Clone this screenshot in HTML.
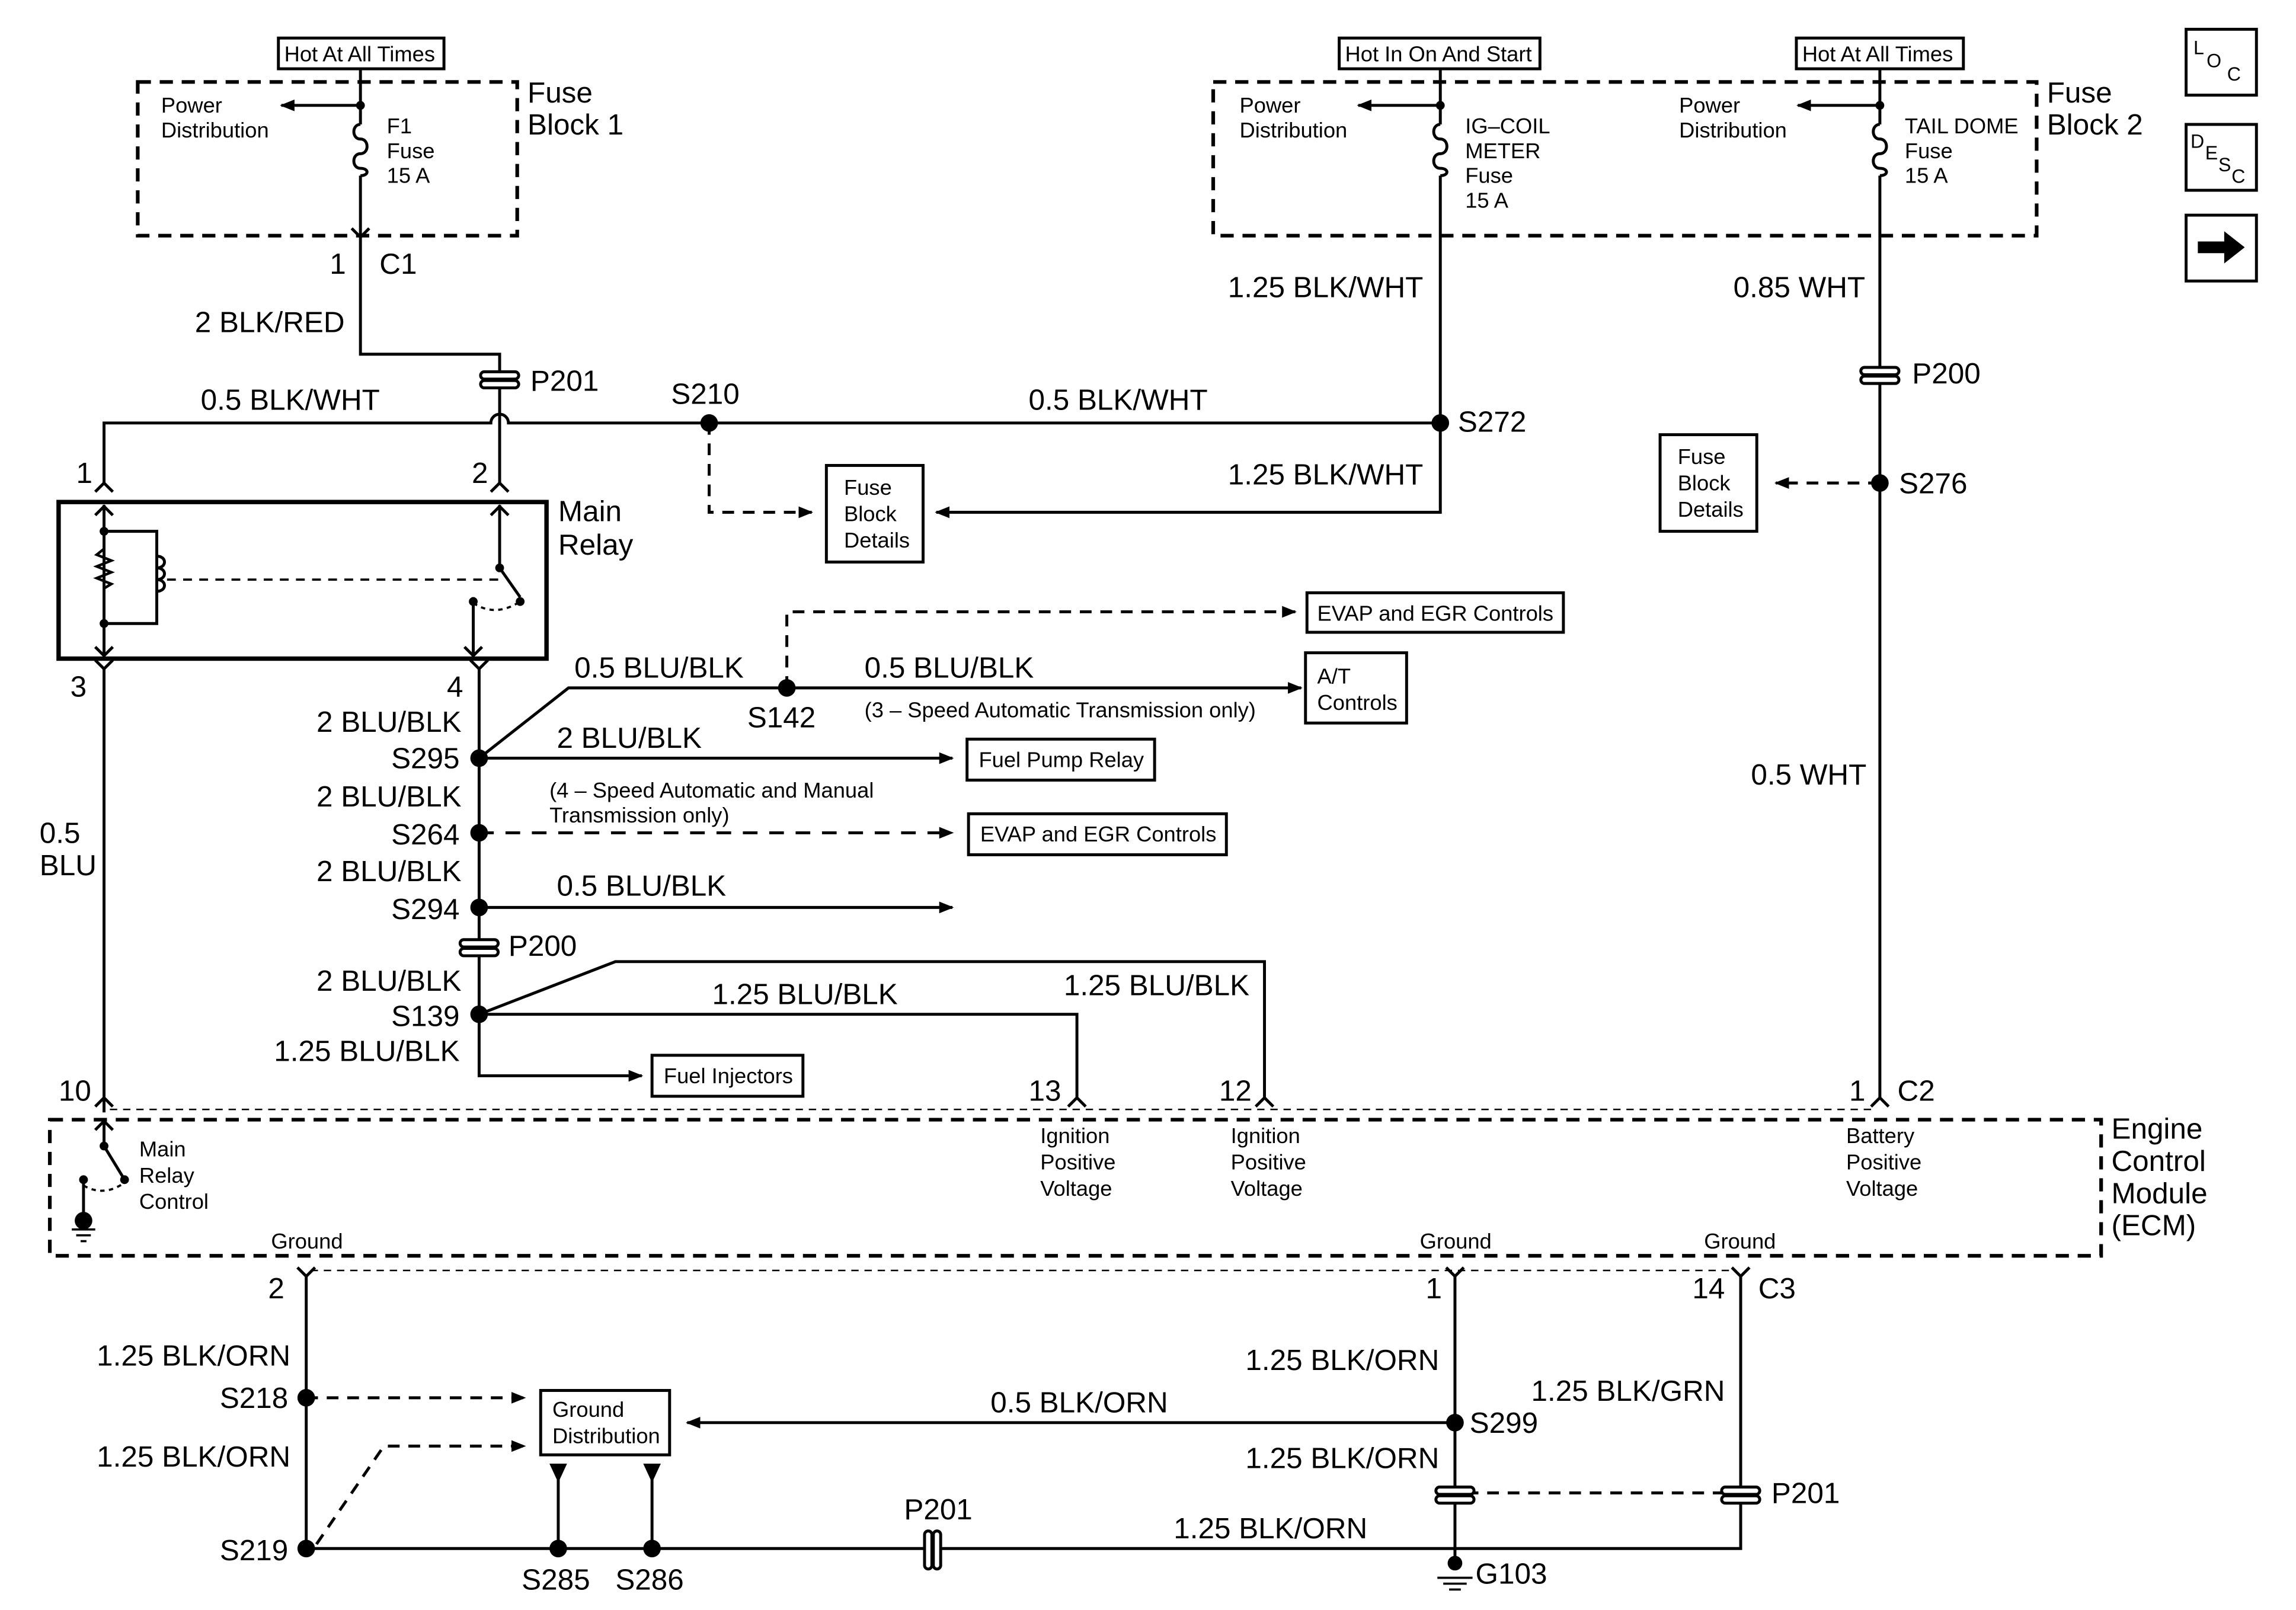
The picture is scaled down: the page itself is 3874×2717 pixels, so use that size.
<!DOCTYPE html>
<html><head><meta charset="utf-8"><style>html,body{margin:0;padding:0;background:#fff}svg{display:block}</style></head>
<body>
<svg width="3874" height="2717" viewBox="0 0 1567 1100" preserveAspectRatio="none" xmlns="http://www.w3.org/2000/svg" font-family="Liberation Sans, sans-serif">
<defs>
<marker id="a" markerWidth="10" markerHeight="8" refX="9" refY="4" orient="auto" markerUnits="userSpaceOnUse"><path d="M0,0 L10,4 L0,8 z" fill="#000"/></marker>
</defs>
<rect width="1567" height="1100" fill="#fff"/>
<g stroke="#000" stroke-width="2" fill="none">
<rect x="190" y="26" width="113" height="21"/>
<rect x="914" y="26" width="137" height="21"/>
<rect x="1226" y="26" width="114" height="21"/>
<g stroke-dasharray="9,6" stroke-width="2.5">
<rect x="94" y="56" width="259" height="105"/>
<rect x="828" y="56" width="562" height="105"/>
<rect x="34" y="765" width="1400" height="93"/>
</g>
<path d="M246,47 V85 M246,120 V160"/>
<path d="M246,85 c-6,0 -6,10 0,10 c6,0 6,10 0,10 M246,105 c-6,0 -6,10 0,10 c6,0 6,5 0,5"/>
<path d="M246,72 H192" marker-end="url(#a)"/>
<path d="M240,156 L246,162 L252,156"/>
<path d="M246,162 V242 H341 V330"/>
<path d="M65,336 L71,330 L77,336"/>
<path d="M335,336 L341,330 L347,336"/>
<path d="M71,330 V289 H335 a6,6 0 0 1 12,0 H983"/>
<path d="M983,47 V85 M983,120 V350 H639" marker-end="url(#a)"/>
<path d="M983,85 c-6,0 -6,10 0,10 c6,0 6,10 0,10 M983,105 c-6,0 -6,10 0,10 c6,0 6,5 0,5"/>
<path d="M983,72 H927" marker-end="url(#a)"/>
<path d="M1283,47 V85 M1283,120 V750"/>
<path d="M1283,85 c-6,0 -6,10 0,10 c6,0 6,10 0,10 M1283,105 c-6,0 -6,10 0,10 c6,0 6,5 0,5"/>
<path d="M1283,72 H1227" marker-end="url(#a)"/>
<path d="M1277,756 L1283,750 L1289,756"/>
<path d="M1283,330 H1212" stroke-dasharray="8,6" marker-end="url(#a)"/>
<rect x="1133" y="297" width="66" height="66"/>
<path d="M484,289 V350 H554" stroke-dasharray="8,6" marker-end="url(#a)"/>
<rect x="564" y="318" width="66" height="66"/>
<rect x="40" y="343" width="333" height="107" stroke-width="3"/>
<path d="M71,345 V449 M65,352 L71,346 L77,352 M65,442 L71,448 L77,442"/>
<path d="M71,363 H107 V426 H71"/>
<path d="M71,375 l-5,4 l10,4 l-10,4 l10,4 l-10,4 l10,4 l-5,3" stroke-width="1.8"/>
<path d="M107,380 c7,0 7,8 0,8 c7,0 7,8 0,8 c7,0 7,8 0,8"/>
<path d="M114,396 H340" stroke-dasharray="6,5" stroke-width="1.5"/>
<path d="M341,345 V388 L355,408 M335,352 L341,346 L347,352"/>
<path d="M323,408 V449 M317,442 L323,448 L329,442"/>
<path d="M323,412 q15,10 32,-1" stroke-dasharray="3,3" stroke-width="1.5"/>
<path d="M65,451 L71,457 L77,451 M321,451 L327,457 L333,451"/>
<path d="M71,457 V760 M65,756 L71,750 L77,756"/>
<path d="M327,457 V735 H438" marker-end="url(#a)"/>
<path d="M327,518 L388,470 H888" marker-end="url(#a)"/>
<path d="M537,470 V418 H884" stroke-dasharray="8,6" marker-end="url(#a)"/>
<rect x="892" y="405" width="175" height="27"/>
<rect x="891" y="446" width="69" height="48"/>
<path d="M327,518 H650" marker-end="url(#a)"/>
<rect x="660" y="505" width="128" height="28"/>
<path d="M327,569 H650" stroke-dasharray="10,8" marker-end="url(#a)"/>
<rect x="661" y="556" width="176" height="28"/>
<path d="M327,620 H650" marker-end="url(#a)"/>
<path d="M327,693 L420,657 H863 V750 M857,756 L863,750 L869,756"/>
<path d="M327,693 H735 V750 M729,756 L735,750 L741,756"/>
<rect x="445" y="721" width="103" height="28"/>
<path d="M75,758 H1280" stroke-dasharray="5,4" stroke-width="1"/>
<path d="M71,765 V783 L85,806 M65,772 L71,766 L77,772"/>
<path d="M57,806 V830"/>
<path d="M57,810 q14,8 28,-2" stroke-dasharray="3,3" stroke-width="1.5"/>
<path d="M49,840 H65 M52,844 H62 M55,848 H59" stroke-width="1.5"/>
<path d="M212,868 H1185" stroke-dasharray="5,4" stroke-width="1"/>
<path d="M203,866 L209,872 L215,866 M987,866 L993,872 L999,866 M1182,866 L1188,872 L1194,866"/>
<path d="M209,872 V1058 H993 M993,872 V1070"/>
<path d="M1188,872 V1058 H993"/>
<path d="M209,955 H358" stroke-dasharray="8,6" marker-end="url(#a)"/>
<path d="M216,1055 L262,988 H358" stroke-dasharray="8,6" marker-end="url(#a)"/>
<rect x="369" y="950" width="88" height="44"/>
<path d="M993,972 H469" marker-end="url(#a)"/>
<path d="M381,1000 V1058 M445,1000 V1058"/>
<path d="M1001,1020 H1180" stroke-dasharray="8,6"/>
<path d="M981,1078 H1005 M985,1082 H1001 M989,1086 H997" stroke-width="1.5"/>
<rect x="1492" y="20" width="48" height="45"/>
<rect x="1492" y="85" width="48" height="45"/>
<rect x="1492" y="147" width="48" height="45"/>
</g>
<g fill="#fff" stroke="#000" stroke-width="2">
<rect x="328" y="254" width="26" height="5" rx="2.5"/><rect x="328" y="260" width="26" height="5" rx="2.5"/>
<rect x="1270" y="251" width="26" height="5" rx="2.5"/><rect x="1270" y="257" width="26" height="5" rx="2.5"/>
<rect x="314" y="642" width="26" height="5" rx="2.5"/><rect x="314" y="648" width="26" height="5" rx="2.5"/>
<rect x="980" y="1016" width="26" height="5" rx="2.5"/><rect x="980" y="1022" width="26" height="5" rx="2.5"/>
<rect x="1175" y="1016" width="26" height="5" rx="2.5"/><rect x="1175" y="1022" width="26" height="5" rx="2.5"/>
<rect x="631" y="1046" width="5" height="26" rx="2.5"/><rect x="637" y="1046" width="5" height="26" rx="2.5"/>
</g>
<g fill="#000">
<circle cx="246" cy="72" r="3"/><circle cx="983" cy="72" r="3"/><circle cx="1283" cy="72" r="3"/>
<circle cx="484" cy="289" r="6"/><circle cx="983" cy="289" r="6"/><circle cx="1283" cy="330" r="6"/>
<circle cx="71" cy="363" r="3"/><circle cx="71" cy="426" r="3"/><circle cx="341" cy="388" r="3"/><circle cx="355" cy="411" r="3"/><circle cx="323" cy="411" r="3"/>
<circle cx="537" cy="470" r="6"/><circle cx="327" cy="518" r="6"/><circle cx="327" cy="569" r="6"/><circle cx="327" cy="620" r="6"/><circle cx="327" cy="693" r="6"/>
<circle cx="71" cy="783" r="3"/><circle cx="85" cy="806" r="3"/><circle cx="57" cy="806" r="3"/><circle cx="57" cy="834" r="6"/>
<circle cx="209" cy="955" r="6"/><circle cx="209" cy="1058" r="6"/><circle cx="993" cy="972" r="6"/>
<circle cx="381" cy="1058" r="6"/><circle cx="445" cy="1058" r="6"/><circle cx="993" cy="1068" r="5"/>
<path d="M375,1000 H387 L381,1013 z M439,1000 H451 L445,1013 z"/>
<path d="M1500,165 H1518 V158 L1532,169 L1518,180 V173 H1500 z"/>
</g>
<g font-size="14.7" fill="#000">
<text x="194" y="42">Hot At All Times</text>
<text x="918" y="42">Hot In On And Start</text>
<text x="1230" y="42">Hot At All Times</text>
<text x="110" y="77">Power</text><text x="110" y="94">Distribution</text>
<text x="264" y="91">F1</text><text x="264" y="108">Fuse</text><text x="264" y="125">15 A</text>
<text x="846" y="77">Power</text><text x="846" y="94">Distribution</text>
<text x="1000" y="91">IG–COIL</text><text x="1000" y="108">METER</text><text x="1000" y="125">Fuse</text><text x="1000" y="142">15 A</text>
<text x="1146" y="77">Power</text><text x="1146" y="94">Distribution</text>
<text x="1300" y="91">TAIL DOME</text><text x="1300" y="108">Fuse</text><text x="1300" y="125">15 A</text>
<text x="576" y="338">Fuse</text><text x="576" y="356">Block</text><text x="576" y="374">Details</text>
<text x="1145" y="317">Fuse</text><text x="1145" y="335">Block</text><text x="1145" y="353">Details</text>
<text x="899" y="424">EVAP and EGR Controls</text>
<text x="899" y="467">A/T</text><text x="899" y="485">Controls</text>
<text x="590" y="490">(3 – Speed Automatic Transmission only)</text>
<text x="668" y="524">Fuel Pump Relay</text>
<text x="375" y="545">(4 – Speed Automatic and Manual</text><text x="375" y="562">Transmission only)</text>
<text x="669" y="575">EVAP and EGR Controls</text>
<text x="453" y="740">Fuel Injectors</text>
<text x="95" y="790">Main</text><text x="95" y="808">Relay</text><text x="95" y="826">Control</text>
<text x="710" y="781">Ignition</text><text x="710" y="799">Positive</text><text x="710" y="817">Voltage</text>
<text x="840" y="781">Ignition</text><text x="840" y="799">Positive</text><text x="840" y="817">Voltage</text>
<text x="1260" y="781">Battery</text><text x="1260" y="799">Positive</text><text x="1260" y="817">Voltage</text>
<text x="185" y="853">Ground</text><text x="969" y="853">Ground</text><text x="1163" y="853">Ground</text>
<text x="377" y="968">Ground</text><text x="377" y="986">Distribution</text>
<text x="1497" y="37" font-size="13">L</text><text x="1506" y="46" font-size="13">O</text><text x="1520" y="55" font-size="13">C</text>
<text x="1495" y="101" font-size="13">D</text><text x="1505" y="109" font-size="13">E</text><text x="1514" y="117" font-size="13">S</text><text x="1523" y="125" font-size="13">C</text>
</g>
<g font-size="20" fill="#000">
<text x="360" y="70">Fuse</text><text x="360" y="92">Block 1</text>
<text x="1397" y="70">Fuse</text><text x="1397" y="92">Block 2</text>
<text x="225" y="187">1</text><text x="259" y="187">C1</text>
<text x="133" y="227">2 BLK/RED</text>
<text x="362" y="267">P201</text>
<text x="137" y="280">0.5 BLK/WHT</text>
<text x="458" y="276">S210</text>
<text x="702" y="280">0.5 BLK/WHT</text>
<text x="995" y="295">S272</text>
<text x="838" y="203">1.25 BLK/WHT</text>
<text x="838" y="331">1.25 BLK/WHT</text>
<text x="1183" y="203">0.85 WHT</text>
<text x="1305" y="262">P200</text>
<text x="1296" y="337">S276</text>
<text x="1195" y="536">0.5 WHT</text>
<text x="52" y="330">1</text><text x="322" y="330">2</text>
<text x="381" y="356">Main</text><text x="381" y="379">Relay</text>
<text x="48" y="476">3</text><text x="305" y="476">4</text>
<text x="27" y="576">0.5</text><text x="27" y="598">BLU</text>
<text x="392" y="463">0.5 BLU/BLK</text><text x="590" y="463">0.5 BLU/BLK</text>
<text x="510" y="497">S142</text>
<text x="216" y="500">2 BLU/BLK</text><text x="267" y="525">S295</text>
<text x="380" y="511">2 BLU/BLK</text>
<text x="216" y="551">2 BLU/BLK</text><text x="267" y="577">S264</text>
<text x="216" y="602">2 BLU/BLK</text><text x="267" y="628">S294</text>
<text x="380" y="612">0.5 BLU/BLK</text>
<text x="347" y="653">P200</text>
<text x="216" y="677">2 BLU/BLK</text><text x="267" y="701">S139</text>
<text x="187" y="725">1.25 BLU/BLK</text>
<text x="486" y="686">1.25 BLU/BLK</text><text x="726" y="680">1.25 BLU/BLK</text>
<text x="40" y="752">10</text><text x="702" y="752">13</text><text x="832" y="752">12</text>
<text x="1262" y="752">1</text><text x="1295" y="752">C2</text>
<text x="1441" y="778">Engine</text><text x="1441" y="800">Control</text><text x="1441" y="822">Module</text><text x="1441" y="844">(ECM)</text>
<text x="183" y="887">2</text><text x="973" y="887">1</text><text x="1155" y="887">14</text><text x="1200" y="887">C3</text>
<text x="66" y="933">1.25 BLK/ORN</text><text x="150" y="962">S218</text>
<text x="66" y="1002">1.25 BLK/ORN</text><text x="150" y="1066">S219</text>
<text x="850" y="936">1.25 BLK/ORN</text>
<text x="1045" y="957">1.25 BLK/GRN</text>
<text x="676" y="965">0.5 BLK/ORN</text>
<text x="1003" y="979">S299</text>
<text x="850" y="1003">1.25 BLK/ORN</text>
<text x="1209" y="1027">P201</text>
<text x="617" y="1038">P201</text>
<text x="801" y="1051">1.25 BLK/ORN</text>
<text x="356" y="1086">S285</text><text x="420" y="1086">S286</text>
<text x="1007" y="1082">G103</text>
</g>
</svg>
</body></html>
